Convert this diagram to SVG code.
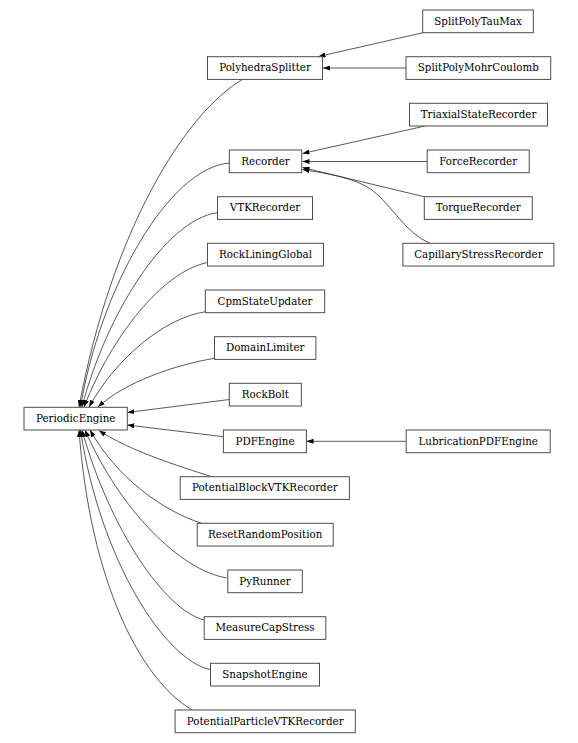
<svg xmlns="http://www.w3.org/2000/svg" width="578" height="743" viewBox="0 0 578 743">
<defs>
<style>
.n rect{fill:#fff;stroke:#4d4d4d;stroke-width:1}
.n text{font-family:"DejaVu Serif","Liberation Serif",serif;font-size:10.3px;fill:#000;text-anchor:middle}
.e path{fill:none;stroke:#222;stroke-width:0.75;marker-end:url(#ah)}
</style>
<marker id="ah" markerUnits="userSpaceOnUse" markerWidth="7" markerHeight="5" viewBox="0 0 7 5" refX="7" refY="2.5" orient="auto">
<path d="M0,0 L7,2.5 L0,5 z" fill="#000"/>
</marker>
</defs>
<rect width="578" height="743" fill="#fff"/>
<g id="edges" class="e">
<path d="M423,32.7 L318.5,56.5"/>
<path d="M406,68 L323,68"/>
<path d="M425,126 L302.5,153.5"/>
<path d="M427,161.5 L302.5,161.5"/>
<path d="M424,196.7 L302.5,167.5"/>
<path d="M430,243.3 C405,233 392,205 372,190 C355,178 330,174 302.5,169.5"/>
<path d="M242.7,79.3 C185,113 112,230 79,407"/>
<path d="M229.3,163 C168,168 100,290 80.5,407"/>
<path d="M217.3,212.7 C165,220 106,315 82,407"/>
<path d="M206.7,262.7 C163,272 112,335 84,407"/>
<path d="M205.7,311.7 C163,318 115,360 89,407"/>
<path d="M214.3,358.3 C175,365 125,382 98,407"/>
<path d="M229.3,399.5 L127.3,412.5"/>
<path d="M223.4,436.7 L127.3,425"/>
<path d="M406,441.3 L306.5,441.3"/>
<path d="M211.7,476.7 C178,466 128,450 99,430.5"/>
<path d="M201.7,523.3 C163,511 117,478 90,430"/>
<path d="M226.7,578 C180,570 120,510 85,430"/>
<path d="M204,620 C165,610 110,530 82,430"/>
<path d="M210,669.5 C165,660 100,560 80.5,430"/>
<path d="M192.4,710 C140,680 90,580 79,430"/>
</g>
<g id="SplitPolyTauMax" class="n"><rect x="422.7" y="10" width="110.6" height="22.7"/><text x="478" y="24.6">SplitPolyTauMax</text></g>
<g id="PolyhedraSplitter" class="n"><rect x="207.5" y="56.7" width="115" height="22.7"/><text x="265" y="71.3">PolyhedraSplitter</text></g>
<g id="SplitPolyMohrCoulomb" class="n"><rect x="406" y="56.7" width="144.7" height="22.7"/><text x="478.3" y="71.3">SplitPolyMohrCoulomb</text></g>
<g id="TriaxialStateRecorder" class="n"><rect x="409.5" y="103.3" width="138" height="22.7"/><text x="478.5" y="118">TriaxialStateRecorder</text></g>
<g id="Recorder" class="n"><rect x="229.3" y="150" width="72.4" height="22.7"/><text x="265.5" y="164.6">Recorder</text></g>
<g id="ForceRecorder" class="n"><rect x="427.2" y="150" width="102" height="22.7"/><text x="478.2" y="164.6">ForceRecorder</text></g>
<g id="VTKRecorder" class="n"><rect x="217.5" y="196.7" width="95" height="22.7"/><text x="265" y="211.3">VTKRecorder</text></g>
<g id="TorqueRecorder" class="n"><rect x="424.3" y="196.7" width="108" height="22.7"/><text x="478.3" y="211.3">TorqueRecorder</text></g>
<g id="RockLiningGlobal" class="n"><rect x="207.5" y="243.3" width="116" height="22.7"/><text x="265.5" y="258">RockLiningGlobal</text></g>
<g id="CapillaryStressRecorder" class="n"><rect x="402.9" y="243.3" width="151" height="22.7"/><text x="478.4" y="258">CapillaryStressRecorder</text></g>
<g id="CpmStateUpdater" class="n"><rect x="205.3" y="290" width="119.4" height="22.7"/><text x="265" y="304.6">CpmStateUpdater</text></g>
<g id="DomainLimiter" class="n"><rect x="214.5" y="336.7" width="101.4" height="22.7"/><text x="265.2" y="351.3">DomainLimiter</text></g>
<g id="RockBolt" class="n"><rect x="229.3" y="383.3" width="72" height="22.7"/><text x="265.3" y="398">RockBolt</text></g>
<g id="PeriodicEngine" class="n"><rect x="24" y="407.3" width="103.3" height="22.7"/><text x="75.7" y="422">PeriodicEngine</text></g>
<g id="PDFEngine" class="n"><rect x="223.4" y="430" width="83" height="22.7"/><text x="265" y="444.6">PDFEngine</text></g>
<g id="LubricationPDFEngine" class="n"><rect x="406.2" y="430" width="144" height="22.7"/><text x="478.2" y="444.6">LubricationPDFEngine</text></g>
<g id="PotentialBlockVTKRecorder" class="n"><rect x="180.2" y="476.7" width="169.2" height="22.7"/><text x="264.8" y="491.3">PotentialBlockVTKRecorder</text></g>
<g id="ResetRandomPosition" class="n"><rect x="197.2" y="523.3" width="136" height="22.7"/><text x="265.2" y="538">ResetRandomPosition</text></g>
<g id="PyRunner" class="n"><rect x="227.8" y="570" width="74.5" height="22.7"/><text x="265" y="584.6">PyRunner</text></g>
<g id="MeasureCapStress" class="n"><rect x="204.2" y="616.7" width="121.6" height="22.7"/><text x="265" y="631.3">MeasureCapStress</text></g>
<g id="SnapshotEngine" class="n"><rect x="210.5" y="663.3" width="109" height="22.7"/><text x="265" y="678">SnapshotEngine</text></g>
<g id="PotentialParticleVTKRecorder" class="n"><rect x="175.1" y="710" width="180.2" height="22.7"/><text x="265.2" y="724.6">PotentialParticleVTKRecorder</text></g>
</svg>
